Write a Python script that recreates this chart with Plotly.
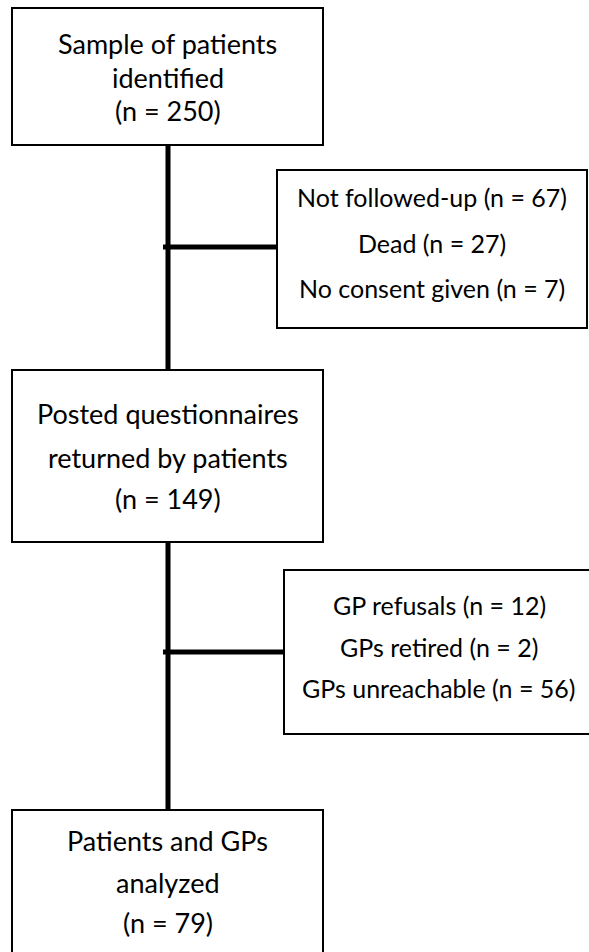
import plotly.graph_objects as go

# Flowchart content
main_titles = [["Sample of patients", "identified"],
               ["Posted questionnaires", "returned by patients"],
               ["Patients and GPs", "analyzed"]]
main_counts = [250, 149, 79]
excl1_labels = ["Not followed-up", "Dead", "No consent given"]
excl1_counts = [67, 27, 7]
excl2_labels = ["GP refusals", "GPs retired", "GPs unreachable"]
excl2_counts = [12, 2, 56]

W, H = 589, 952
FONT = "Lato"
FS_MAIN = 27
FS_EXCL = 25

fig = go.Figure()
fig.add_trace(go.Scatter(x=[100], y=[100], mode="markers", marker=dict(opacity=0), hoverinfo="skip", showlegend=False))

shapes = []
annotations = []

def box(x0, y0, x1, y1):
    shapes.append(dict(type="rect", x0=x0, y0=y0, x1=x1, y1=y1,
                       line=dict(color="black", width=2), fillcolor="white", layer="above"))

def line(x0, y0, x1, y1, w=5):
    shapes.append(dict(type="line", x0=x0, y0=y0, x1=x1, y1=y1,
                       line=dict(color="black", width=w), layer="below"))

def text(x, y, s, fs):
    annotations.append(dict(x=x, y=y, text=s, showarrow=False, xanchor="center", yanchor="middle",
                            font=dict(family=FONT, size=fs, color="black")))

# connectors
line(168, 145, 168, 370)
line(168, 542, 168, 810)
line(163, 247, 277, 247)
line(163, 652, 284, 652)

# main boxes
main_boxes = [(12, 8, 323, 145), (12, 370, 323, 542), (12, 810, 323, 965)]
main_line_y = [[43, 77, 110], [413, 457, 498], [840, 882, 922]]
for (x0, y0, x1, y1), title, n, ys in zip(main_boxes, main_titles, main_counts, main_line_y):
    box(x0, y0, x1, y1)
    cx = (x0 + x1) / 2
    lines = title + [f"(n = {n})"]
    for s, yy in zip(lines, ys):
        text(cx, yy, s, FS_MAIN)

# exclusion boxes
box(277, 170, 587, 328)
for s, n, yy in zip(excl1_labels, excl1_counts, [197, 243, 288]):
    text(432, yy, f"{s} (n = {n})", FS_EXCL)

box(284, 570, 600, 734)
for s, n, yy in zip(excl2_labels, excl2_counts, [605, 647, 688]):
    text(439, yy, f"{s} (n = {n})", FS_EXCL)

fig.update_layout(
    width=W, height=H, margin=dict(l=0, r=0, t=0, b=0),
    paper_bgcolor="white", plot_bgcolor="white",
    xaxis=dict(range=[0, W], visible=False, fixedrange=True),
    yaxis=dict(range=[H, 0], visible=False, fixedrange=True),
    shapes=shapes, annotations=annotations, showlegend=False,
)
fig.write_html("out.html", config=dict(displayModeBar=False),
               post_script="document.body.style.margin='0';document.body.style.overflow='hidden';")
